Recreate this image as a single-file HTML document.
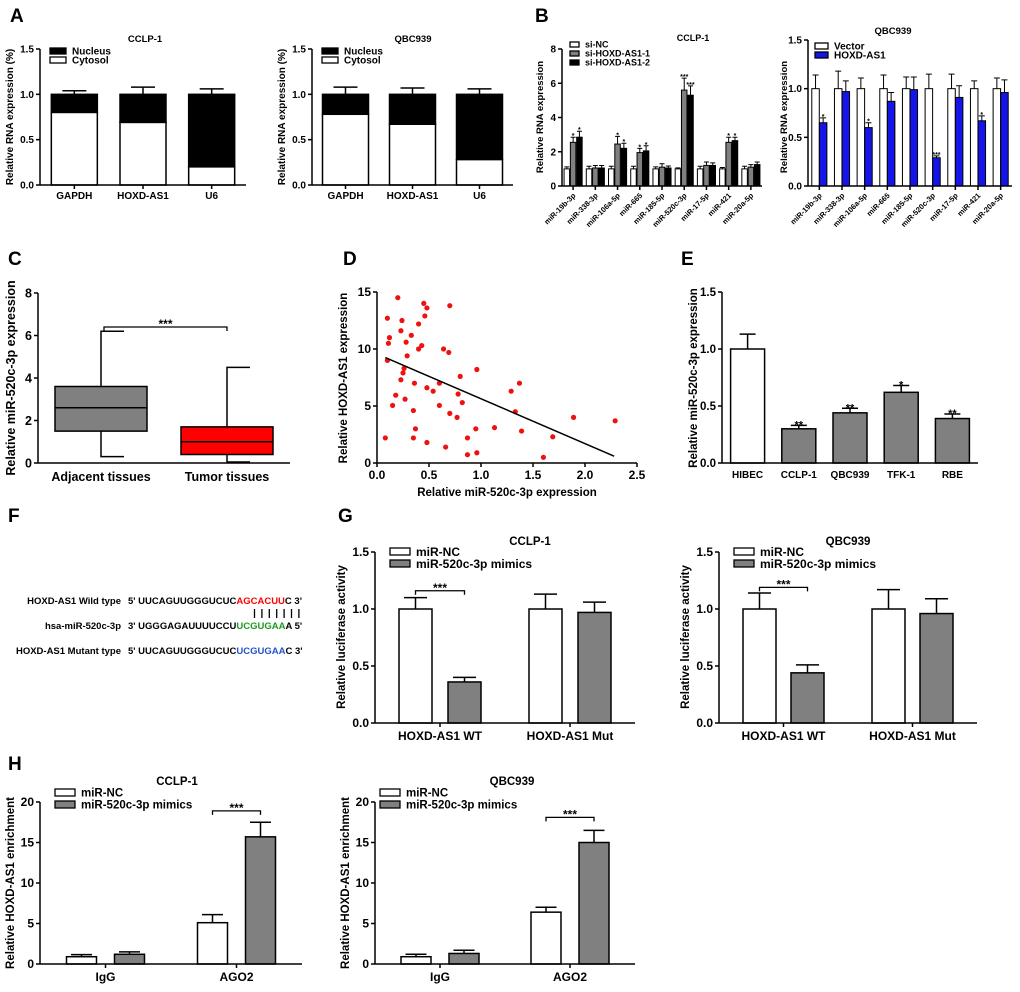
<!DOCTYPE html>
<html><head><meta charset="utf-8">
<style>
html,body{margin:0;padding:0;background:#fff;}
svg{display:block;font-family:"Liberation Sans",Arial,sans-serif;font-weight:bold;}
</style></head>
<body>
<svg id="fig" width="1020" height="992" viewBox="0 0 1020 992" xmlns="http://www.w3.org/2000/svg"></svg>
<script>
// ---------- DATA ----------
const A_cats = ['GAPDH','HOXD-AS1','U6'];
const A1_cyto = [0.80, 0.69, 0.20];
const A1_err = [0.04, 0.08, 0.06];
const A2_cyto = [0.78, 0.67, 0.28];
const A2_err = [0.08, 0.07, 0.06];
const A_ticks = [0, 0.5, 1.0, 1.5];
const A_tickLabels = ['0.0','0.5','1.0','1.5'];

const B_cats = ['miR-19b-3p','miR-338-3p','miR-106a-5p','miR-665','miR-185-5p','miR-520c-3p','miR-17-5p','miR-421','miR-20a-5p'];
const B1_nc = [1,1,1,1,1,1,1,1,1];
const B1_nc_err = [0.12,0.15,0.15,0.15,0.12,0.06,0.15,0.08,0.15];
const B1_si1 = [2.55,1.05,2.45,1.95,1.10,5.60,1.20,2.55,1.10];
const B1_si1_err = [0.30,0.15,0.45,0.25,0.20,0.70,0.20,0.30,0.15];
const B1_si2 = [2.85,1.05,2.20,2.05,1.05,5.30,1.20,2.65,1.25];
const B1_si2_err = [0.35,0.15,0.30,0.30,0.12,0.55,0.15,0.20,0.15];
const B1_si1_star = ['*','','*','*','','***','','*',''];
const B1_si2_star = ['*','','*','*','','***','','*',''];
const B1_ticks = [0,2,4,6,8];
const B1_tickLabels = ['0','2','4','6','8'];

const B2_vec = [1,1,1,1,1,1,1,1,1];
const B2_vec_err = [0.14,0.18,0.11,0.14,0.12,0.15,0.15,0.08,0.11];
const B2_hox = [0.65,0.97,0.60,0.87,0.99,0.29,0.91,0.67,0.96];
const B2_hox_err = [0.05,0.11,0.05,0.09,0.13,0.02,0.12,0.05,0.13];
const B2_star = ['*','','*','','','***','','*',''];
const B2_ticks = [0,0.5,1.0,1.5];
const B2_tickLabels = ['0.0','0.5','1.0','1.5'];

const C_cats = ['Adjacent tissues','Tumor tissues'];
const C_min = [0.3, 0.05];
const C_q1 = [1.5, 0.4];
const C_med = [2.6, 1.0];
const C_q3 = [3.6, 1.7];
const C_max = [6.2, 4.5];
const C_ticks = [0,2,4,6,8];
const C_tickLabels = ['0','2','4','6','8'];

const D_x = [0.08,0.10,0.11,0.10,0.12,0.20,0.15,0.18,0.23,0.24,0.23,0.25,0.26,0.27,0.28,0.29,0.33,0.35,0.36,0.37,0.35,0.40,0.40,0.43,0.45,0.46,0.48,0.48,0.48,0.54,0.60,0.60,0.64,0.66,0.69,0.70,0.70,0.77,0.78,0.80,0.82,0.87,0.87,0.95,0.96,0.96,1.13,1.29,1.33,1.37,1.39,1.60,1.69,1.89,2.29];
const D_y = [2.2,12.7,10.5,9.0,11.0,14.5,5.05,5.95,11.6,12.5,7.3,7.9,8.3,5.6,10.6,9.4,11.2,4.6,7.0,3.0,2.2,12.2,10.0,10.3,14.0,12.9,13.6,6.6,1.8,6.3,7.0,5.05,10.0,1.4,9.7,13.8,4.35,4.0,6.05,7.6,5.3,2.2,0.73,3.0,8.2,0.9,3.1,6.3,4.5,7.0,2.8,0.5,2.3,4.0,3.7];
const D_fitX = [0.08, 2.28];
const D_fitY = [9.25, 0.6];
const D_xticks = [0,0.5,1.0,1.5,2.0,2.5];
const D_xtickLabels = ['0.0','0.5','1.0','1.5','2.0','2.5'];
const D_yticks = [0,5,10,15];
const D_ytickLabels = ['0','5','10','15'];

const E_cats = ['HIBEC','CCLP-1','QBC939','TFK-1','RBE'];
const E_vals = [1.0,0.30,0.44,0.62,0.39];
const E_err = [0.13,0.03,0.04,0.06,0.04];
const E_star = ['','**','**','*','**'];

const G_cats = ['HOXD-AS1 WT','HOXD-AS1 Mut'];
const G1_nc = [1.0,1.0];
const G1_nc_err = [0.10,0.13];
const G1_mim = [0.36,0.97];
const G1_mim_err = [0.04,0.09];
const G2_nc = [1.0,1.0];
const G2_nc_err = [0.14,0.17];
const G2_mim = [0.44,0.96];
const G2_mim_err = [0.07,0.13];
const G_ticks = [0,0.5,1.0,1.5];
const G_tickLabels = ['0.0','0.5','1.0','1.5'];

const H_cats = ['IgG','AGO2'];
const H1_nc = [0.9,5.1];
const H1_nc_err = [0.25,1.0];
const H1_mim = [1.2,15.7];
const H1_mim_err = [0.3,1.8];
const H2_nc = [0.9,6.4];
const H2_nc_err = [0.3,0.6];
const H2_mim = [1.3,15.0];
const H2_mim_err = [0.4,1.5];
const H_ticks = [0,5,10,15,20];
const H_tickLabels = ['0','5','10','15','20'];

// ---------- HELPERS ----------
const NS = 'http://www.w3.org/2000/svg';
const svg = document.getElementById('fig');
function el(tag, attrs, parent) {
  const e = document.createElementNS(NS, tag);
  for (const k in attrs) e.setAttribute(k, attrs[k]);
  (parent || svg).appendChild(e);
  return e;
}
function txt(str, x, y, fs, anchor, parent, extra) {
  const t = el('text', Object.assign({x: x, y: y, 'font-size': fs, 'text-anchor': anchor || 'middle', fill: '#000'}, extra || {}), parent);
  t.textContent = str;
  return t;
}
function scale(v0, v1, p0, p1) { return v => p0 + (v - v0) / (v1 - v0) * (p1 - p0); }

function yAxis(g, x, sy, ticks, labels, fs) {
  const ax = el('line', {x1: x, x2: x, y1: sy(ticks[0]), y2: sy(ticks[ticks.length-1]), stroke: '#000', 'stroke-width': 1.5}, g);
  
  
  ticks.forEach((v, i) => {
    const tk = el('line', {x1: x-4, x2: x, y1: sy(v), y2: sy(v), stroke: '#000', 'stroke-width': 1.5}, g);
    
    
    const lb = txt(labels[i], x-6, sy(v) + fs*0.35, fs, 'end', g);
    
    
  });
}
function xAxis(g, y, x0, x1, centers) {
  const ax = el('line', {x1: x0, x2: x1, y1: y, y2: y, stroke: '#000', 'stroke-width': 1.5}, g);
  
  
  centers.forEach(c => {
    const tk = el('line', {x1: c, x2: c, y1: y, y2: y+4, stroke: '#000', 'stroke-width': 1.5}, g);
    
    
  });
}
function yTitle(g, str, x, y, fs) {
  const t = txt(str, x, y, fs, 'middle', g, {transform: 'rotate(-90 ' + x + ' ' + y + ')'});
  
  
}
function title(g, str, x, y, fs) {
  const t = txt(str, x, y, fs, 'middle', g);
  
  
}
function bar(g, cx, w, sy, v, fill, sw) {
  const top = sy(v), base = sy(0);
  const r = el('rect', {x: cx - w/2, y: top, width: w, height: base - top, fill: fill, stroke: '#000', 'stroke-width': sw || 1.5}, g);
  
  
  return r;
}
function errBar(g, cx, sy, v, e, cap, sw) {
  const eb = el('path', {d: 'M' + cx + ' ' + sy(v) + 'V' + sy(v+e) + 'M' + (cx-cap) + ' ' + sy(v+e) + 'H' + (cx+cap), stroke: '#000', 'stroke-width': sw || 1.5, fill: 'none'}, g);
  
  
}
function legendEntry(g, x, y, w, h, fill, label, fs) {
  const r = el('rect', {x: x, y: y, width: w, height: h, fill: fill, stroke: '#000', 'stroke-width': 1.3}, g);
  
  
  const t = txt(label, x + w + 6, y + h/2 + fs*0.36, fs, 'start', g);
  
  
}
function bracket(g, xa, xb, y, fs) {
  const p = el('path', {d: 'M' + xa + ' ' + (y+4) + 'V' + y + 'H' + xb + 'V' + (y+4), stroke: '#000', 'stroke-width': 1.3, fill: 'none'}, g);
  
  
  const t = txt('***', (xa+xb)/2, y + 1, fs, 'middle', g);
  
  
}
function panelLetter(str, x, y) {
  const t = txt(str, x, y, 19, 'start');
  
  
}
function group(name) {
  const g = el('g', {});
  
  
  return g;
}
function centersOf(x0, x1, n) { const b = (x1 - x0) / n; return Array.from({length: n}, (_, i) => x0 + b * (i + 0.5)); }

// ---------- PANEL A ----------
function panelA(name, ax, x1, cyto, err, ttl, ttlX) {
  const g = group(name);
  const sy = scale(0, 1.5, 185, 49);
  const cs = centersOf(ax, x1, A_cats.length);
  cs.forEach((c, i) => {
    errBar(g, c, sy, 1, err[i], 12);
    const n = el('rect', {x: c-23, y: sy(1), width: 46, height: sy(cyto[i]) - sy(1), fill: '#000', stroke: '#000', 'stroke-width': 1.5}, g);
    
    
    const r = el('rect', {x: c-23, y: sy(cyto[i]), width: 46, height: sy(0) - sy(cyto[i]), fill: '#fff', stroke: '#000', 'stroke-width': 1.5}, g);
    
    
    const lb = txt(A_cats[i], c, 199, 10, 'middle', g);
    
    
  });
  xAxis(g, 185, ax, x1, cs);
  yAxis(g, ax, sy, A_ticks, A_tickLabels, 10);
  yTitle(g, 'Relative RNA expression (%)', ax - 27, 117, 10);
  title(g, ttl, ttlX, 42, 9.5);
  legendEntry(g, ax + 10, 48, 16, 6, '#000', 'Nucleus', 10);
  legendEntry(g, ax + 10, 57, 16, 6, '#fff', 'Cytosol', 10);
}
panelLetter('A', 10, 22);
panelA('panel-a-cclp1', 40, 246, A1_cyto, A1_err, 'CCLP-1', 145);
panelA('panel-a-qbc939', 312, 513, A2_cyto, A2_err, 'QBC939', 413);

// ---------- PANEL B ----------
panelLetter('B', 535, 22);
(function () {
  const g = group('panel-b-cclp1');
  const ax = 562, x1 = 762;
  const sy = scale(0, 8, 186, 49);
  const cs = centersOf(ax, x1, B_cats.length);
  const series = [[B1_nc, B1_nc_err, '#fff', null], [B1_si1, B1_si1_err, '#808080', B1_si1_star], [B1_si2, B1_si2_err, '#000', B1_si2_star]];
  cs.forEach((c, i) => {
    series.forEach((s, j) => {
      const bx = c + (j - 1) * 6.3;
      errBar(g, bx, sy, s[0][i], s[1][i], 2.5, 1);
      bar(g, bx, 5.5, sy, s[0][i], s[2], 1);
      if (s[3] && s[3][i]) {
        const st = txt(s[3][i], bx, sy(s[0][i] + s[1][i]) + 1, 7, 'middle', g);
        
        
      }
    });
    const lb = txt(B_cats[i], c + 3, 196, 7.5, 'end', g, {transform: 'rotate(-45 ' + (c+3) + ' 196)'});
    
    
  });
  xAxis(g, 186, ax, x1, cs);
  yAxis(g, ax, sy, B1_ticks, B1_tickLabels, 10);
  yTitle(g, 'Relative RNA expression', 543, 117, 9.5);
  title(g, 'CCLP-1', 693, 41, 9);
  legendEntry(g, 570, 42, 9, 5, '#fff', 'si-NC', 9);
  legendEntry(g, 570, 51, 9, 5, '#808080', 'si-HOXD-AS1-1', 9);
  legendEntry(g, 570, 60, 9, 5, '#000', 'si-HOXD-AS1-2', 9);
})();
(function () {
  const g = group('panel-b-qbc939');
  const ax = 808, x1 = 1012;
  const sy = scale(0, 1.5, 186, 40);
  const cs = centersOf(ax, x1, B_cats.length);
  cs.forEach((c, i) => {
    errBar(g, c - 3.8, sy, B2_vec[i], B2_vec_err[i], 3, 1);
    bar(g, c - 3.8, 7.5, sy, B2_vec[i], '#fff', 1);
    errBar(g, c + 3.8, sy, B2_hox[i], B2_hox_err[i], 3, 1);
    bar(g, c + 3.8, 7.5, sy, B2_hox[i], '#1515e8', 1);
    if (B2_star[i]) {
      const st = txt(B2_star[i], c + 3.8, sy(B2_hox[i] + B2_hox_err[i]) + 1, 7, 'middle', g);
      
      
    }
    const lb = txt(B_cats[i], c + 3, 196, 7.5, 'end', g, {transform: 'rotate(-45 ' + (c+3) + ' 196)'});
    
    
  });
  xAxis(g, 186, ax, x1, cs);
  yAxis(g, ax, sy, B2_ticks, B2_tickLabels, 10);
  yTitle(g, 'Relative RNA expression', 787, 117, 9.5);
  title(g, 'QBC939', 893, 34, 9.5);
  legendEntry(g, 815, 43, 13, 6, '#fff', 'Vector', 10);
  legendEntry(g, 815, 52, 13, 6, '#1515e8', 'HOXD-AS1', 10);
})();

// ---------- PANEL C ----------
panelLetter('C', 8, 265);
(function () {
  const g = group('panel-c-boxplot');
  const ax = 38, x1 = 290;
  const sy = scale(0, 8, 463, 293);
  const cs = centersOf(ax, x1, C_cats.length);
  const fills = ['#808080', '#ff0000'];
  cs.forEach((c, i) => {
    const w = el('path', {d: 'M' + c + ' ' + sy(C_q3[i]) + 'V' + sy(C_max[i]) + 'H' + (c+23) + 'M' + c + ' ' + sy(C_q1[i]) + 'V' + sy(C_min[i]) + 'H' + (c+23), stroke: '#000', 'stroke-width': 1.5, fill: 'none'}, g);
    
    
    const b = el('rect', {x: c-46, y: sy(C_q3[i]), width: 92, height: sy(C_q1[i]) - sy(C_q3[i]), fill: fills[i], stroke: '#000', 'stroke-width': 1.5}, g);
    
    
    const m = el('line', {x1: c-46, x2: c+46, y1: sy(C_med[i]), y2: sy(C_med[i]), stroke: '#000', 'stroke-width': 1.5}, g);
    
    
    const lb = txt(C_cats[i], c, 481, 12.5, 'middle', g);
    
    
  });
  xAxis(g, 463, ax, x1, []);
  yAxis(g, ax, sy, C_ticks, C_tickLabels, 12.5);
  yTitle(g, 'Relative miR-520c-3p expression', 15, 378, 12.5);
  bracket(g, cs[0] + 3, cs[1], sy(Math.max(C_max[0], C_max[1]) + 0.2), 12);
})();

// ---------- PANEL D ----------
panelLetter('D', 343, 265);
(function () {
  const g = group('panel-d-scatter');
  const sx = scale(0, 2.5, 377, 637);
  const sy = scale(0, 15, 463, 292);
  D_x.forEach((x, i) => {
    const p = el('circle', {cx: sx(x), cy: sy(D_y[i]), r: 2.6, fill: '#ee1111'}, g);
    
    
  });
  const ln = el('line', {x1: sx(D_fitX[0]), y1: sy(D_fitY[0]), x2: sx(D_fitX[1]), y2: sy(D_fitY[1]), stroke: '#000', 'stroke-width': 1.5}, g);
  
  
  const xa = el('line', {x1: sx(0), x2: sx(2.5), y1: 463, y2: 463, stroke: '#000', 'stroke-width': 1.5}, g);
  
  
  D_xticks.forEach((v, i) => {
    const tk = el('line', {x1: sx(v), x2: sx(v), y1: 463, y2: 467, stroke: '#000', 'stroke-width': 1.5}, g);
    
    
    const lb = txt(D_xtickLabels[i], sx(v), 479, 12, 'middle', g);
    
    
  });
  yAxis(g, 377, sy, D_yticks, D_ytickLabels, 12);
  yTitle(g, 'Relative HOXD-AS1 expression', 347, 378, 11.5);
  const xt = txt('Relative miR-520c-3p expression', 507, 496, 11.5, 'middle', g);
  
  
})();

// ---------- PANEL E ----------
panelLetter('E', 681, 265);
(function () {
  const g = group('panel-e-bars');
  const ax = 722, x1 = 978;
  const sy = scale(0, 1.5, 463, 292);
  const cs = centersOf(ax, x1, E_cats.length);
  cs.forEach((c, i) => {
    errBar(g, c, sy, E_vals[i], E_err[i], 8);
    bar(g, c, 34, sy, E_vals[i], i === 0 ? '#fff' : '#808080');
    if (E_star[i]) {
      const st = txt(E_star[i], c, sy(E_vals[i] + E_err[i]) + 3, 11, 'middle', g);
      
      
    }
    const lb = txt(E_cats[i], c, 478, 10, 'middle', g);
    
    
  });
  xAxis(g, 463, ax, x1, []);
  yAxis(g, ax, sy, [0, 0.5, 1.0, 1.5], ['0.0','0.5','1.0','1.5'], 11.5);
  yTitle(g, 'Relative miR-520c-3p expression', 697, 378, 11.5);
})();

// ---------- PANEL F ----------
panelLetter('F', 8, 522);
(function () {
  const g = group('panel-f-sequences');
  function row(label, y, pre, colored, color, post) {
    const l = txt(label, 121, y, 9.5, 'end', g);
    
    
    const t = el('text', {x: 128, y: y, 'font-size': 9.5, fill: '#000'}, g);
    
    
    const a = el('tspan', {}, t); a.textContent = pre;
    const b = el('tspan', {fill: color}, t); b.textContent = colored;
    const c = el('tspan', {}, t); c.textContent = post;
  }
  row('HOXD-AS1 Wild type', 604, "5' UUCAGUUGGGUCUC", 'AGCACUU', '#ff0000', "C 3'");
  row('hsa-miR-520c-3p', 629, "3' UGGGAGAUUUUCCU", 'UCGUGAA', '#1a9a1a', "A 5'");
  row('HOXD-AS1 Mutant type', 654, "5' UUCAGUUGGGUCUC", 'UCGUGAA', '#2255cc', "C 3'");
  for (let k = 0; k < 7; k++) {
    const x = 254.5 + k * 7.4;
    const p = el('line', {x1: x, x2: x, y1: 609, y2: 618, stroke: '#000', 'stroke-width': 1.3}, g);
    
    
  }
})();

// ---------- PANELS G & H ----------
function pairedBars(name, ax, x1, y0, y1, vmax, cats, nc, ncErr, mim, mimErr, ticks, tickLabels, off, bw, ttl, ttlX, ttlY, ytitle, ytX, ytY, legX, legY, fs, brY) {
  const g = group(name);
  const sy = scale(0, vmax, y0, y1);
  const cs = centersOf(ax, x1, cats.length);
  cs.forEach((c, i) => {
    errBar(g, c - off, sy, nc[i], ncErr[i], bw * 0.35);
    bar(g, c - off, bw, sy, nc[i], '#fff');
    errBar(g, c + off, sy, mim[i], mimErr[i], bw * 0.35);
    bar(g, c + off, bw, sy, mim[i], '#808080');
    const lb = txt(cats[i], c, y0 + 17, 12, 'middle', g);
    
    
  });
  xAxis(g, y0, ax, x1, cs);
  yAxis(g, ax, sy, ticks, tickLabels, 12);
  yTitle(g, ytitle, ytX, ytY, 11.5);
  title(g, ttl, ttlX, ttlY, 11.5);
  legendEntry(g, legX, legY, 20, 7, '#fff', 'miR-NC', fs);
  legendEntry(g, legX, legY + 12, 20, 7, '#808080', 'miR-520c-3p mimics', fs);
  bracket(g, cs[brY[0]] - off, cs[brY[0]] + off, sy(brY[1]), 12);
}
panelLetter('G', 338, 522);
pairedBars('panel-g-cclp1', 375, 635, 723, 552, 1.5, G_cats, G1_nc, G1_nc_err, G1_mim, G1_mim_err, G_ticks, G_tickLabels, 24.5, 33, 'CCLP-1', 530, 545, 'Relative luciferase activity', 345, 637, 390, 548, 12, [0, 1.16]);
pairedBars('panel-g-qbc939', 719, 977, 723, 552, 1.5, G_cats, G2_nc, G2_nc_err, G2_mim, G2_mim_err, G_ticks, G_tickLabels, 24, 33, 'QBC939', 848, 545, 'Relative luciferase activity', 689, 637, 734, 548, 12, [0, 1.19]);
panelLetter('H', 8, 770);
pairedBars('panel-h-cclp1', 40, 302, 964, 802, 20, H_cats, H1_nc, H1_nc_err, H1_mim, H1_mim_err, H_ticks, H_tickLabels, 24, 30, 'CCLP-1', 177, 785, 'Relative HOXD-AS1 enrichment', 14, 883, 55, 789, 11.5, [1, 18.9]);
pairedBars('panel-h-qbc939', 375, 635, 964, 802, 20, H_cats, H2_nc, H2_nc_err, H2_mim, H2_mim_err, H_ticks, H_tickLabels, 24, 30, 'QBC939', 512, 785, 'Relative HOXD-AS1 enrichment', 349, 883, 380, 789, 11.5, [1, 18.1]);
</script>
</body></html>
